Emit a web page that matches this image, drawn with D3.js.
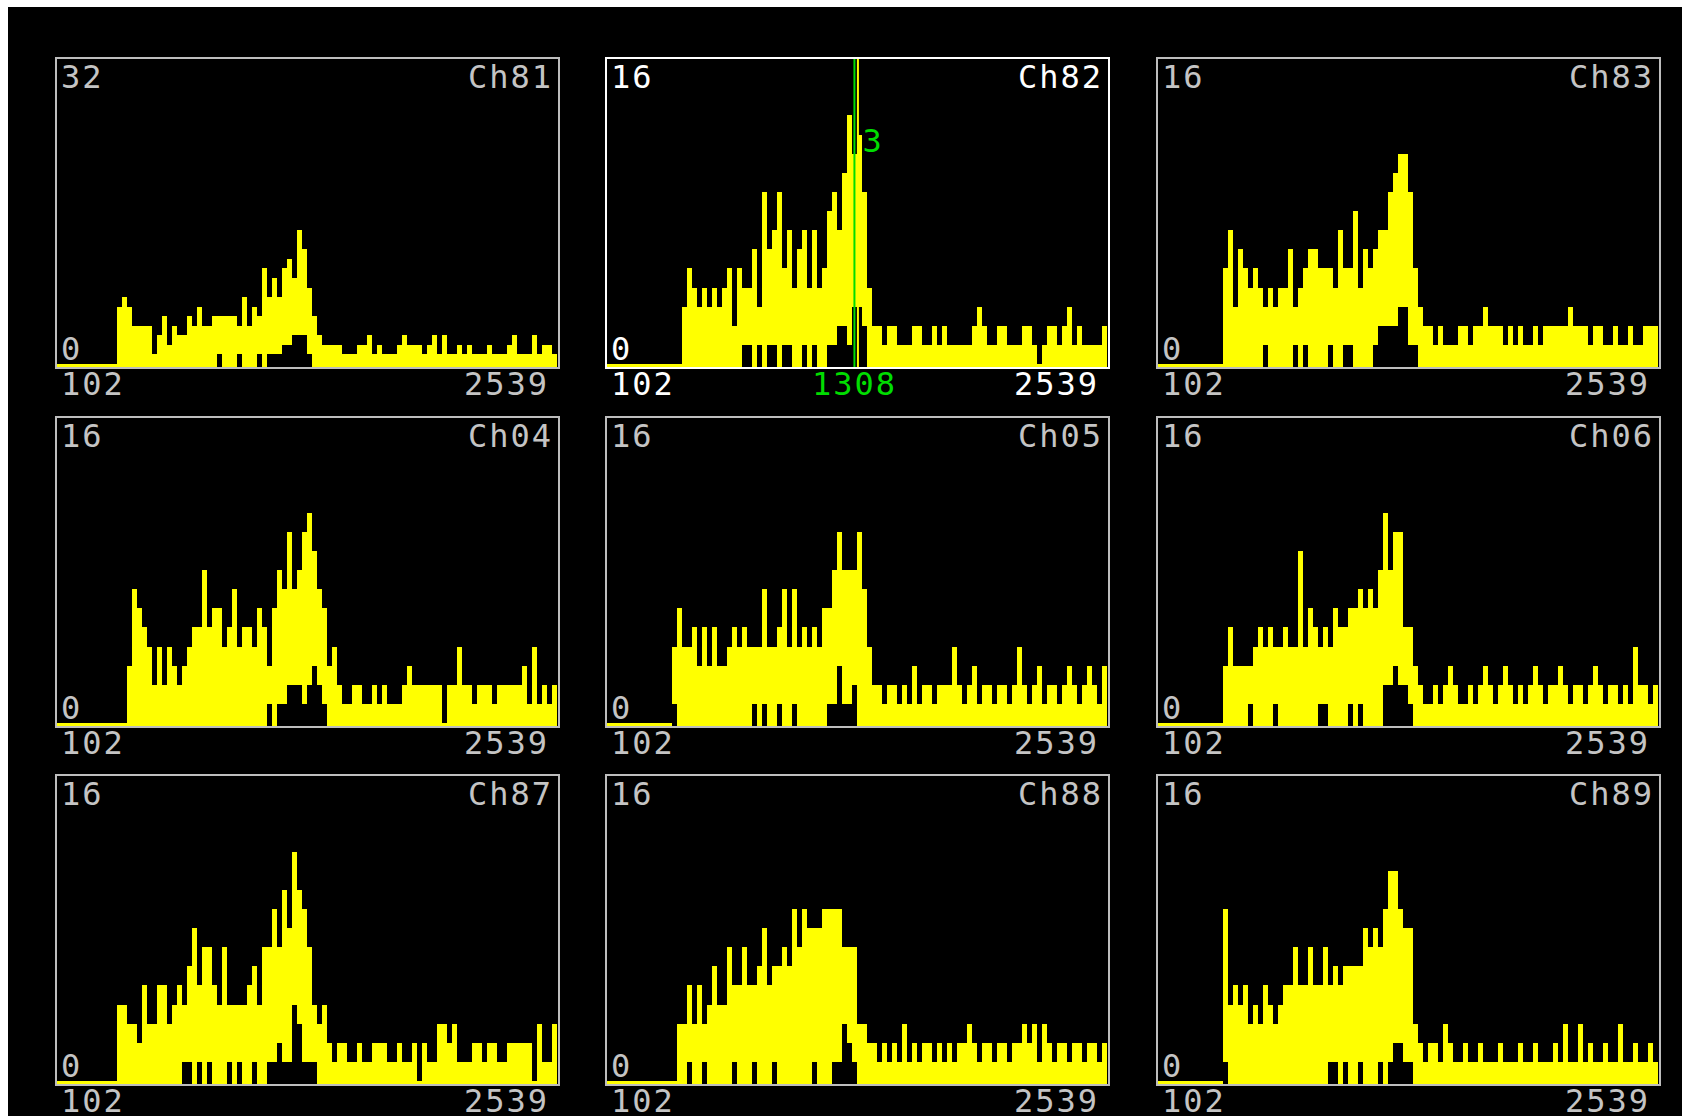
<!DOCTYPE html>
<html lang="en">
<head>
<meta charset="UTF-8">
<title>Channel histograms</title>
<script src="https://d3js.org/d3.v7.min.js"></script>
<style>
  html, body { margin: 0; padding: 0; background: #fff; }
  svg { display: block; }
  text { font-family: "DejaVu Sans Mono", monospace; font-size: 32px; letter-spacing: 2px; }
</style>
</head>
<body>
<svg id="chart" width="1682" height="1116"></svg>
<script>
// x range shared by all panels (channel numbers)
const xMin = 102, xMax = 2539;
const nBins = 100;

const names = ["Ch81", "Ch82", "Ch83", "Ch04", "Ch05", "Ch06", "Ch87", "Ch88", "Ch89"];
const yMaxes = [32, 16, 16, 16, 16, 16, 16, 16, 16];

// counts per bin (100 bins from 102 to 2539)
const ch81 = [0,0,0,0,0,0,0,0,0,0,0,0,
  6,7,6,4,4,4,4,1,3,5,2,4,3,3,5,4,6,4,4,5,5,5,5,5,4,7,4,6,5,10,7,9,7,10,11,9,14,12,8,5,3,
  2,2,2,2,1,1,1,2,2,3,1,2,1,1,1,2,3,2,2,2,1,2,3,1,3,1,1,2,1,2,1,1,1,2,1,1,1,2,3,1,1,1,3,1,2,2,1];
const ch82 = [0,0,0,0,0,0,0,0,0,0,0,0,0,0,0,
  3,5,4,3,4,3,4,3,4,5,2,5,4,4,6,3,9,6,7,9,5,7,4,6,7,4,7,4,5,8,9,7,10,13,11,12,9,4,2,
  2,1,2,2,1,1,1,2,2,1,1,2,1,2,1,1,1,1,1,2,3,2,1,1,2,2,1,1,1,2,2,1,0,1,2,2,1,2,3,1,2,1,1,1,1,2];
const ch83 = [0,0,0,0,0,0,0,0,0,0,0,0,0,
  5,7,3,6,5,4,5,4,3,4,3,4,4,6,3,4,5,6,6,5,5,5,4,7,5,5,8,4,6,5,6,7,7,9,10,11,11,9,5,3,2,
  2,1,2,1,1,1,2,2,1,2,2,3,2,2,2,1,2,1,2,1,1,2,1,2,2,2,2,2,3,2,2,2,1,2,2,1,1,2,1,1,2,1,1,2,2,2];
const ch04 = [0,0,0,0,0,0,0,0,0,0,0,0,0,0,
  3,7,6,5,4,2,4,2,4,3,2,3,4,5,5,8,5,6,6,4,5,7,4,5,5,4,6,5,3,6,8,7,10,7,8,10,11,9,7,6,3,4,2,
  1,1,2,2,1,1,2,1,2,1,1,1,2,3,2,2,2,2,2,2,0,2,2,4,2,2,1,2,2,2,1,2,2,2,2,2,3,1,4,1,2,1,2];
const ch05 = [0,0,0,0,0,0,0,0,0,0,0,0,0,
  4,6,4,4,5,3,5,3,5,3,3,4,5,4,5,4,4,4,7,4,4,5,7,4,7,4,5,4,5,4,6,6,8,10,8,8,8,10,7,4,2,
  2,1,2,2,1,2,1,3,1,2,2,1,2,2,2,4,2,1,2,3,1,2,2,1,2,2,1,2,4,2,1,2,3,1,2,2,1,2,3,2,1,2,3,2,1,3];
const ch06 = [0,0,0,0,0,0,0,0,0,0,0,0,0,
  3,5,3,3,3,3,4,5,4,5,4,4,5,4,4,9,4,6,5,4,5,4,6,5,5,6,6,7,6,7,6,8,11,8,10,10,5,5,3,2,
  1,1,2,1,2,3,2,1,1,2,1,2,3,2,1,2,3,2,1,2,1,2,3,2,1,2,2,3,2,1,2,2,1,2,3,2,1,2,2,1,2,1,4,2,2,1,2];
const ch87 = [0,0,0,0,0,0,0,0,0,0,0,0,
  4,4,3,3,2,5,3,3,5,5,3,4,5,4,6,8,5,7,7,5,4,7,4,4,4,4,5,6,4,7,7,9,7,10,8,12,10,9,7,4,3,4,2,
  1,2,2,1,1,2,1,1,2,2,2,1,1,2,1,1,2,0,2,1,1,3,3,2,3,1,1,1,2,2,1,2,2,1,1,2,2,2,2,2,0,3,1,1,3];
const ch88 = [0,0,0,0,0,0,0,0,0,0,0,0,0,0,
  3,3,5,3,5,3,4,6,4,4,7,5,5,7,5,5,6,8,5,6,6,7,6,9,7,9,8,8,8,9,9,9,9,7,7,7,3,3,2,2,
  1,2,1,2,1,3,1,2,1,2,2,1,2,1,2,1,2,2,3,2,1,2,2,1,2,2,1,2,2,3,2,3,1,3,2,1,2,2,1,2,2,1,2,2,1,2];
const ch89 = [0,0,0,0,0,0,0,0,0,0,0,0,0,
  9,4,5,4,5,3,4,3,5,4,3,4,5,5,7,5,5,7,5,5,7,5,6,5,6,6,6,6,8,7,8,7,9,11,11,9,8,8,3,2,
  1,2,2,1,3,2,1,1,2,1,1,2,1,1,1,2,1,1,1,2,1,1,2,1,1,1,2,1,3,1,1,3,1,2,1,1,2,1,1,3,1,1,2,1,1,2,1];

// second (black) histogram drawn over the first: [bin, count]
const ch81Under = [[32,1],[36,1],[40,1],[42,1],[43,1],[44,1],[45,2],[46,2],[47,3],[48,3],[49,3],[50,1]];
const ch82Under = [[27,1],[28,1],[30,1],[32,1],[33,1],[35,1],[36,1],[39,1],[41,1],[44,1],[45,1],[46,2],[47,2],[48,1],[49,3],[50,3],[51,2]];
const ch83Under = [[21,1],[27,1],[29,1],[34,1],[37,1],[38,1],[43,1],[44,2],[45,2],[46,2],[47,2],[48,3],[49,3],[50,1],[51,1]];
const ch04Under = [[42,1],[44,1],[45,1],[46,2],[47,2],[48,2],[49,1],[50,2],[51,3],[52,2],[53,1]];
const ch05Under = [[13,1],[29,1],[31,1],[34,1],[37,1],[44,1],[45,1],[46,3],[47,1],[48,1],[49,2]];
const ch06Under = [[18,1],[23,1],[32,1],[33,1],[38,1],[40,1],[45,2],[46,2],[47,3],[48,2],[49,2],[50,1]];
const ch87Under = [[25,1],[26,1],[28,1],[30,1],[34,1],[36,1],[39,1],[42,1],[43,1],[44,2],[45,1],[46,1],[47,4],[48,3],[49,1],[50,1],[51,1]];
const ch88Under = [[16,1],[19,1],[25,1],[29,1],[33,1],[41,1],[45,1],[46,1],[47,3],[48,2],[49,1]];
const ch89Under = [[13,1],[34,1],[35,1],[37,1],[40,1],[44,1],[46,1],[47,2],[48,2],[49,1],[50,1]];

const allCounts = [ch81, ch82, ch83, ch04, ch05, ch06, ch87, ch88, ch89];
const allUnder = [ch81Under, ch82Under, ch83Under, ch04Under, ch05Under, ch06Under, ch87Under, ch88Under, ch89Under];

// cursor on Ch82
const cursorPanel = 1, cursorValue = 1308, markerValue = 1325, cursorText = "3";

const svg = d3.select("#chart");
svg.append("rect")
  .attr("x", 8).attr("y", 7)
  .attr("width", 1674).attr("height", 1109)
  .attr("fill", "#000");

const colLeft = [56, 606, 1157];
const rowTop = [58, 417, 775];
const panelW = 503, panelH = 310;
const binEdges = d3.range(nBins + 1).map(i => xMin + i * (xMax - xMin) / nBins);

names.forEach((name, k) => {
  const L = colLeft[k % 3], T = rowTop[Math.floor(k / 3)];
  const selected = k === cursorPanel;
  const textColor = selected ? "#ffffff" : "#c4c4c4";
  const g = svg.append("g").attr("transform", `translate(${L},${T})`);

  const x = d3.scaleLinear().domain([xMin, xMax]).range([1, panelW - 2]);
  const y = d3.scaleLinear().domain([0, yMaxes[k]]).range([panelH - 4, 0]);

  const counts = allCounts[k];
  const pts = counts.map((v, i) => ({ x: binEdges[i], v }));
  pts.push({ x: xMax, v: counts[nBins - 1] });

  const area = d3.area()
    .curve(d3.curveStepAfter)
    .x(d => x(d.x))
    .y0(panelH - 1)
    .y1(d => y(d.v));

  g.append("path")
    .datum(pts)
    .attr("d", area)
    .attr("fill", "#ffff00")
    .attr("shape-rendering", "crispEdges");

  g.selectAll("rect.under")
    .data(allUnder[k])
    .join("rect")
    .attr("class", "under")
    .attr("x", d => x(binEdges[d[0]]))
    .attr("width", d => x(binEdges[d[0] + 1]) - x(binEdges[d[0]]))
    .attr("y", d => y(d[1]))
    .attr("height", d => panelH - 1 - y(d[1]))
    .attr("fill", "#000")
    .attr("shape-rendering", "crispEdges");

  if (selected) {
    g.append("line")
      .attr("x1", x(markerValue)).attr("x2", x(markerValue))
      .attr("y1", 0).attr("y2", panelH)
      .attr("stroke", "#ffff00").attr("stroke-width", 2);
    g.append("line")
      .attr("x1", x(cursorValue)).attr("x2", x(cursorValue))
      .attr("y1", 0).attr("y2", panelH)
      .attr("stroke", "#00dd00").attr("stroke-width", 2);
    g.append("text")
      .attr("x", x(cursorValue) + 8).attr("y", 94)
      .attr("fill", "#00dd00")
      .text(cursorText);
    g.append("text")
      .attr("x", x(cursorValue)).attr("y", panelH + 27)
      .attr("text-anchor", "middle")
      .attr("fill", "#00dd00")
      .text(cursorValue);
  }

  g.append("rect")
    .attr("x", 0).attr("y", 0)
    .attr("width", panelW).attr("height", panelH)
    .attr("fill", "none")
    .attr("stroke", selected ? "#ffffff" : "#bdbdbd")
    .attr("stroke-width", 2);

  g.append("text").attr("x", 5).attr("y", 30).attr("fill", textColor).text(yMaxes[k]);
  g.append("text").attr("x", 5).attr("y", panelH - 8).attr("fill", textColor).text(0);
  g.append("text").attr("x", panelW - 6).attr("y", 30)
    .attr("text-anchor", "end").attr("fill", textColor).text(name);
  g.append("text").attr("x", 5).attr("y", panelH + 27).attr("fill", textColor).text(xMin);
  g.append("text").attr("x", panelW - 10).attr("y", panelH + 27)
    .attr("text-anchor", "end").attr("fill", textColor).text(xMax);
});
</script>
</body>
</html>
